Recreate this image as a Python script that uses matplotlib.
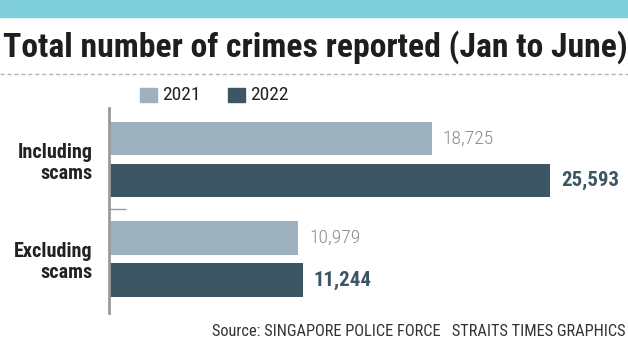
import matplotlib.pyplot as plt
from matplotlib.lines import Line2D
from matplotlib.patches import Rectangle

categories = ["Including\nscams", "Excluding\nscams"]
years = ["2021", "2022"]
crimes_2021 = [18725, 10979]
crimes_2022 = [25593, 11244]

C_2021 = "#9db2be"
C_2022 = "#3c5763"
TEAL = "#7ecfdb"
NARROW = ["Roboto Condensed", "Barlow Semi Condensed", "DejaVu Sans"]

plt.rcParams["font.family"] = NARROW

W, H = 628, 342
fig = plt.figure(figsize=(W / 100, H / 100), dpi=100)


def fx(px):
    return px / W


def fy(py):
    return 1 - py / H


# header band and title
fig.patches.append(Rectangle((0, fy(17)), 1, 17 / H, transform=fig.transFigure,
                             color=TEAL, zorder=0))
fig.text(fx(3), fy(47), "Total number of crimes reported (Jan to June)",
         fontsize=24.2, fontweight="bold", color="#1e1e1e", va="center", ha="left")
fig.lines.append(Line2D([0, 1], [fy(74), fy(74)], transform=fig.transFigure,
                        color="#b5b5b5", lw=1, ls=(0, (3, 2))))

# legend
for x0, lab, col in [(140, years[0], C_2021), (228, years[1], C_2022)]:
    fig.patches.append(Rectangle((fx(x0), fy(102)), fx(17), 14 / H,
                                 transform=fig.transFigure, color=col))
    fig.text(fx(x0 + 22), fy(95), lab, fontsize=14, color="#222222",
             va="center", ha="left")

# bar area: axis spans y 108..313, x from 109
top, bot = 108, 313
ax = fig.add_axes([fx(109), fy(bot), 1 - fx(109), (bot - top) / H])

spacing = 99.5
ymin = (top - 159.5) / spacing
ymax = (bot - 159.5) / spacing
scale = 441 / 25593  # pixels per crime
ax.set_xlim(0, (W - 109) / scale)
ax.set_ylim(ymax, ymin)

pos = list(range(len(categories)))
off = 0.211
h = 0.34
ax.barh([p - off for p in pos], crimes_2021, height=h, color=C_2021)
ax.barh([p + off for p in pos], crimes_2022, height=h, color=C_2022)

pad = 11 / scale
for p, v in zip(pos, crimes_2021):
    ax.text(v + pad, p - off, f"{v:,}", va="center", ha="left",
            fontsize=14, color="#8a8a8a", fontweight="light")
for p, v in zip(pos, crimes_2022):
    ax.text(v + pad, p + off, f"{v:,}", va="center", ha="left",
            fontsize=15, color="#3c5763", fontweight="bold")

for s in ["top", "right", "bottom"]:
    ax.spines[s].set_visible(False)
ax.spines["left"].set_color("#9a9a9a")
ax.spines["left"].set_linewidth(2)
ax.set_xticks([])
ax.set_yticks(pos)
ax.set_yticklabels(categories, fontsize=14.5, fontweight="bold", color="#222222",
                   linespacing=1.15)
ax.tick_params(axis="y", which="major", length=0, pad=12)
ax.set_yticks([0.5], minor=True)
ax.tick_params(axis="y", which="minor", direction="in", length=12.5,
               width=1, color="#9a9a9a")
ax.patch.set_alpha(0)

fig.text(fx(625), fy(331), "Source: SINGAPORE POLICE FORCE   STRAITS TIMES GRAPHICS",
         fontsize=11.8, color="#333333", va="center", ha="right")

fig.savefig("out.png", dpi=100)
